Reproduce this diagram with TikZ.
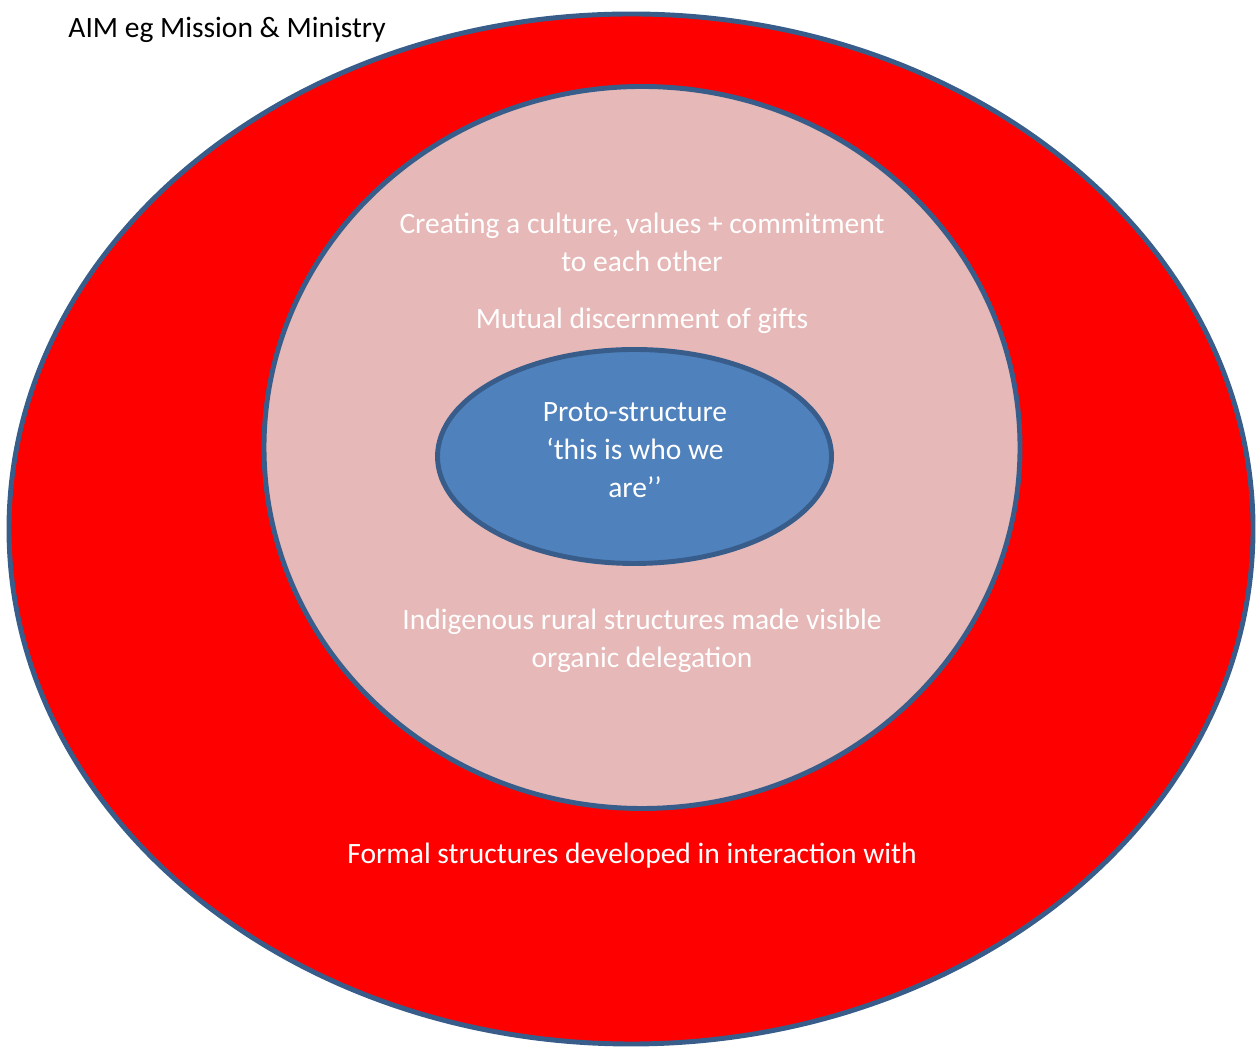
\documentclass[tikz,border=0pt]{standalone}
\usepackage{fontspec}
\setmainfont{Carlito}
\usetikzlibrary{shapes.geometric, positioning}
\definecolor{RingRed}{HTML}{FF0000}
\definecolor{RingPink}{HTML}{E6B8B7}
\definecolor{CoreBlue}{HTML}{4F81BD}
\definecolor{EdgeBlue}{HTML}{385D8A}

\begin{document}
\begin{tikzpicture}[
    every node/.style={font=\fontsize{8.4}{10.8}\selectfont},
    ring/.style={ellipse, draw=EdgeBlue, line width=1.4pt, inner sep=0pt},
    lbl/.style={text=white, align=center},
]
\useasboundingbox (0,0) rectangle (12.57,10.46);

% === Rings, outside in ===
\node[ring, fill=RingRed, minimum width=12.44cm, minimum height=10.30cm] (outer) at (6.31, 5.17) {};
\node[ring, fill=RingPink, minimum width=7.56cm, minimum height=7.22cm] (middle) at (6.42, 5.985) {};
\node[ring, fill=CoreBlue, minimum width=3.94cm, minimum height=2.14cm] (core) at (6.345, 5.895) {};

% === Labels ===
\node[anchor=west] (aim) at (0.56, 10.16) {AIM eg Mission \& Ministry};
\node[lbl] (formal) at (6.32, 1.90) {Formal structures developed in interaction with};

\node[lbl] (culture) at (6.42, 8.04) {Creating a culture, values + commitment\\to each other};
\node[lbl] (gifts) at (6.42, 7.25) {Mutual discernment of gifts};
\node[lbl] (rural) at (6.42, 4.055) {Indigenous rural structures made visible\\organic delegation};

\node[lbl] (proto) at (6.35, 5.96) {Proto-structure\\‘this is who we\\are’’};

\end{tikzpicture}
\end{document}
